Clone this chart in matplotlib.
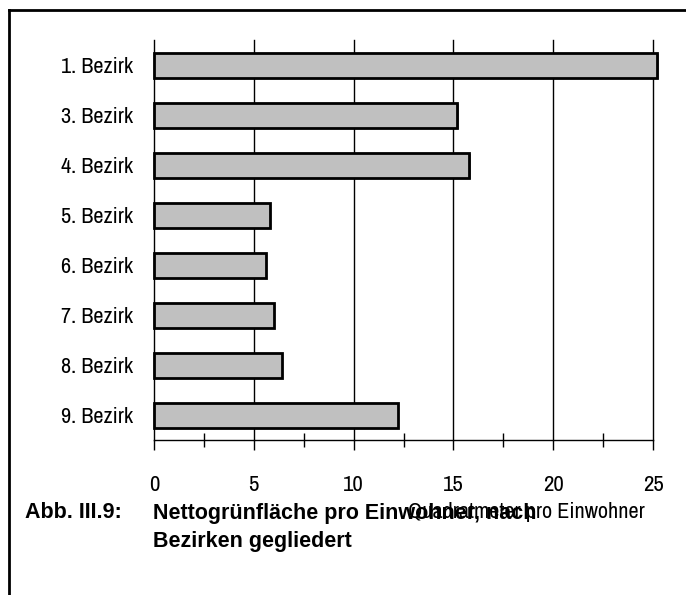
import matplotlib.pyplot as plt
from matplotlib.lines import Line2D
from matplotlib.ticker import MultipleLocator

bezirke = ['1. Bezirk', '3. Bezirk', '4. Bezirk', '5. Bezirk',
           '6. Bezirk', '7. Bezirk', '8. Bezirk', '9. Bezirk']
gruenflaeche = [25.2, 15.2, 15.8, 5.8, 5.6, 6.0, 6.4, 12.2]
x_ticks = [0, 5, 10, 15, 20, 25]

NARROW = ['Archivo Narrow', 'Liberation Sans', 'DejaVu Sans']
BOLD = ['Liberation Sans', 'DejaVu Sans']
plt.rcParams['font.family'] = NARROW
FS = 16

W, H = 686, 595
fig = plt.figure(figsize=(W / 100, H / 100), dpi=100)
ax = fig.add_axes([154 / W, 1 - 440 / H, (653 - 154) / W, 400 / H])

pos = list(range(len(bezirke)))
# leichter Schatten hinter den Balken
ax.barh([p + 0.03 for p in pos], gruenflaeche, height=0.5, left=0.08,
        color='#909090', zorder=2, clip_on=False)
ax.barh(pos, gruenflaeche, height=0.5, color='#c0c0c0',
        edgecolor='black', linewidth=2, zorder=3, clip_on=False)

ax.set_ylim(len(bezirke) - 0.5, -0.5)
ax.set_xlim(0, 25)
ax.set_yticks(pos)
ax.set_yticklabels(bezirke, fontsize=FS)
ax.set_xticks(x_ticks)
ax.set_xticklabels([str(t) for t in x_ticks], fontsize=FS + 0.5)
ax.xaxis.set_minor_locator(MultipleLocator(2.5))
ax.tick_params(axis='y', length=0, pad=15)
ax.tick_params(axis='x', which='major', direction='out', length=7, width=1, pad=18)
ax.tick_params(axis='x', which='minor', direction='inout', length=10, width=1)
ax.set_axisbelow(True)

# Gitterlinien inklusive der Linie bei 25
for t in x_ticks[1:]:
    ax.axvline(t, color='black', linewidth=1, zorder=1, clip_on=False)

for side in ['top', 'right']:
    ax.spines[side].set_visible(False)
ax.spines['left'].set_linewidth(1)
ax.spines['bottom'].set_linewidth(1)

# Achsentitel (liegt auf der Bildunterschrift)
fig.text(526 / W, 1 - 512 / H, 'Quadratmeter pro Einwohner',
         ha='center', va='center', fontsize=FS)

fig.text(25 / W, 1 - 513 / H, 'Abb. III.9:', fontsize=15.5,
         fontweight='bold', va='center', family=BOLD)
fig.text(153 / W, 1 - 513 / H, 'Nettogrünfläche pro Einwohner, nach',
         fontsize=15.5, fontweight='bold', va='center', family=BOLD)
fig.text(153 / W, 1 - 542 / H, 'Bezirken gegliedert',
         fontsize=15.5, fontweight='bold', va='center', family=BOLD)

# Rahmen links und oben
fig.add_artist(Line2D([8.5 / W, 8.5 / W], [0, 1 - 9.5 / H],
                      color='black', linewidth=2, transform=fig.transFigure))
fig.add_artist(Line2D([8.5 / W, 1], [1 - 9.5 / H, 1 - 9.5 / H],
                      color='black', linewidth=2, transform=fig.transFigure))

fig.savefig('out.png', dpi=100)
